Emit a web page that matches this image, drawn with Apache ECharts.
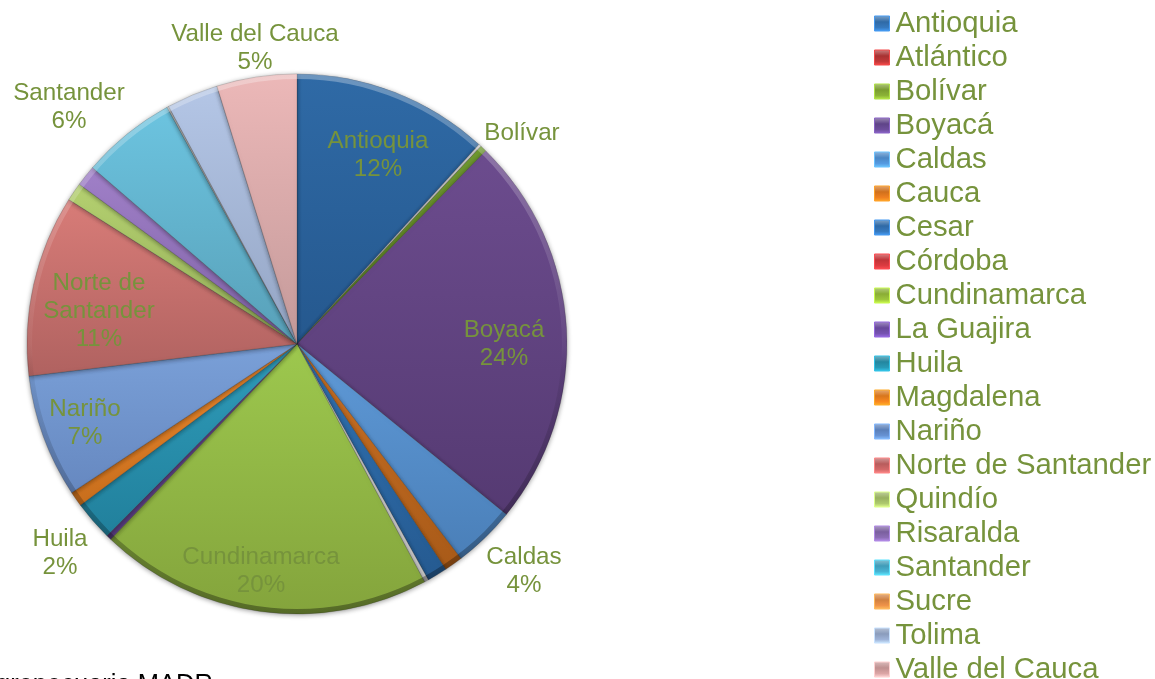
<!DOCTYPE html>
<html>
<head>
    <meta charset="utf-8">
    <title>ECharts</title>
    <script src="https://cdn.jsdelivr.net/npm/echarts@6/dist/echarts.min.js"></script>
    <style>html,body{margin:0;padding:0;background:#fff;overflow:hidden}</style>
</head>
<body>
    <div id="main" style="width:1155px;height:679px;"></div>
    <script type="text/javascript">
        var departments = ['Antioquia','Atlántico','Bolívar','Boyacá','Caldas','Cauca','Cesar','Córdoba','Cundinamarca','La Guajira','Huila','Magdalena','Nariño','Norte de Santander','Quindío','Risaralda','Santander','Sucre','Tolima','Valle del Cauca'];
        var shares = [11.8,0.15,0.4,23.6,3.75,1.1,1.2,0.25,20,0.3,2.4,0.9,7.4,10.9,1.1,1.25,5.7,0.1,3.1,4.8];
        var topColors = ['#2f6aa6','#d8d8d8','#6f9a30','#6c4c8e','#5f9ad8','#cc7226','#3273b4','#e0e0e0','#9dc84e','#70509a','#2f9cba','#ee8a30','#7aa0d8','#d87c78','#b4d070','#a080c8','#6cc4e0','#c8c8c8','#b4c6e6','#ecb8b8'];
        var bottomColors = ['#25588e','#b8b8b8','#55771f','#553a72','#4a7fb8','#a85a18','#255a90','#c8c8c8','#84a43c','#54397a','#21809c','#c86e1c','#6688c0','#b06260','#94ae58','#7f62a6','#58a0b8','#a8a8a8','#94a5c4','#c49a9a'];
        var legendColors = ['#2f6aa6','#a83232','#7a9c30','#5f4488','#4a86c4','#d0701c','#2f6aa6','#c03438','#8aad35','#67489a','#23869f','#d8761c','#5a7fb8','#b85c5c','#98b060','#7a5f9e','#3f9cb8','#d08040','#8a9cbc','#c09090'];
        var labelled = {
            'Antioquia': [378, 155],
            'Bolívar': [522, 133],
            'Boyacá': [504, 344],
            'Caldas': [524, 571],
            'Cundinamarca': [261, 571],
            'Huila': [60, 553],
            'Nariño': [85, 423],
            'Norte de Santander': [99, 311],
            'Santander': [69, 107],
            'Valle del Cauca': [255, 48]
        };

        var myChart = echarts.init(document.getElementById('main'));

        function vert(stops) {
            return { type: 'linear', x: 0, y: 0, x2: 0, y2: 1, colorStops: stops };
        }

        var pieData = departments.map(function (name, i) {
            return {
                name: name,
                value: shares[i],
                itemStyle: { color: vert([{ offset: 0, color: topColors[i] }, { offset: 1, color: bottomColors[i] }]) },
                label: { show: !!labelled[name] }
            };
        });

        var legendData = departments.map(function (name, i) {
            return {
                name: name,
                itemStyle: {
                    color: vert([
                        { offset: 0, color: echarts.color.lift(legendColors[i], 0.4) },
                        { offset: 0.4, color: legendColors[i] },
                        { offset: 0.75, color: echarts.color.lift(legendColors[i], -0.15) },
                        { offset: 1, color: echarts.color.lift(legendColors[i], -0.5) }
                    ]),
                    borderColor: echarts.color.lift(legendColors[i], -0.45),
                    borderWidth: 1
                }
            };
        });

        var option = {
            animation: false,
            backgroundColor: '#fff',
            legend: {
                data: legendData,
                orient: 'vertical',
                left: 874,
                top: 6.5,
                height: 720,
                padding: 0,
                itemGap: 0,
                itemWidth: 15,
                itemHeight: 15,
                icon: 'rect',
                selectedMode: false,
                formatter: '{name}',
                textStyle: { color: '#76933c', fontFamily: 'Liberation Sans', fontSize: 29.3, lineHeight: 34, padding: [0, 0, 0, 1] }
            },
            graphic: [{
                type: 'text',
                left: -21,
                top: 672,
                style: { text: 'Agropecuaria MADR', fontFamily: 'Liberation Sans', fontSize: 25.5, fill: '#000' }
            }],
            series: [
                {
                    name: 'Área',
                    type: 'pie',
                    center: [297, 344],
                    radius: [0, 270],
                    startAngle: 90,
                    clockwise: true,
                    avoidLabelOverlap: false,
                    silent: true,
                    data: pieData,
                    labelLine: { show: false },
                    itemStyle: {
                        borderColor: 'rgba(40,40,40,0.35)',
                        borderWidth: 0.6,
                        shadowBlur: 5,
                        shadowColor: 'rgba(0,0,0,0.4)',
                        shadowOffsetY: 1
                    },
                    label: {
                        position: 'inside',
                        color: '#76933c',
                        fontFamily: 'Liberation Sans',
                        fontSize: 24.2,
                        lineHeight: 28,
                        align: 'center',
                        formatter: function (p) {
                            if (p.name === 'Bolívar') return p.name;
                            var n = p.name === 'Norte de Santander' ? 'Norte de\nSantander' : p.name;
                            return n + '\n' + Math.round(p.percent) + '%';
                        }
                    },
                    labelLayout: function (p) {
                        var pos = labelled[departments[p.dataIndex]];
                        if (!pos) return {};
                        return { x: pos[0], y: pos[1], align: 'center', verticalAlign: 'middle' };
                    }
                },
                {
                    // aro del bisel
                    name: 'bisel',
                    type: 'pie',
                    center: [297, 344],
                    radius: [265, 270],
                    silent: true,
                    label: { show: false },
                    labelLine: { show: false },
                    data: [{
                        name: 'bisel',
                        value: 1,
                        itemStyle: {
                            color: vert([
                                { offset: 0, color: 'rgba(255,255,255,0.3)' },
                                { offset: 0.5, color: 'rgba(255,255,255,0.04)' },
                                { offset: 0.55, color: 'rgba(0,0,0,0.05)' },
                                { offset: 1, color: 'rgba(0,0,0,0.35)' }
                            ])
                        }
                    }]
                }
            ]
        };

        myChart.setOption(option);
    </script>
</body>
</html>
